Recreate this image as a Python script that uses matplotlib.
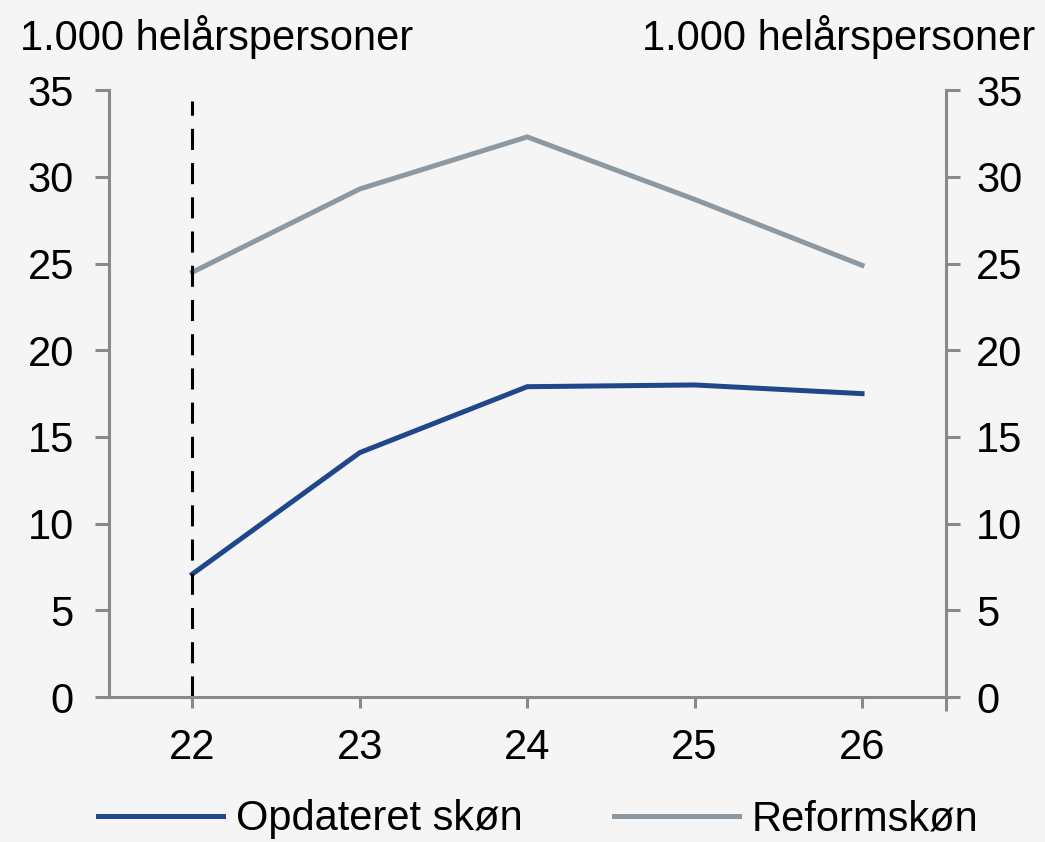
import matplotlib
matplotlib.use("Agg")
from matplotlib import pyplot as plt

# data
years = [22, 23, 24, 25, 26]
opdateret = [7.1, 14.1, 17.9, 18.0, 17.5]
reform = [24.5, 29.3, 32.3, 28.7, 24.9]
y_ticks = [0, 5, 10, 15, 20, 25, 30, 35]
unit_label = "1.000 helårspersoner"

plt.rcParams['font.family'] = ['Liberation Sans', 'DejaVu Sans']
bg = '#f5f5f5'
spine_c = '#898989'

fig = plt.figure(figsize=(10.45, 8.42), dpi=100, facecolor=bg)
ax = fig.add_axes([0.104, 0.172, 0.801, 0.721], facecolor=bg)

ax.plot(years, opdateret, color='#1f478a', lw=3.6, label='Opdateret skøn', solid_joinstyle='miter')
ax.plot(years, reform, color='#8c99a2', lw=3.6, label='Reformskøn', solid_joinstyle='miter')
ax.plot([22, 22], [0, 34.4], color='black', lw=2.2, ls=(0, (6.9, 4.3)))

ax.set_xlim(21.5, 26.5)
ax.set_ylim(0, 35)
ax.set_xticks(years)
ax.set_xticks([26.5], minor=True)
ax.set_yticks(y_ticks)

ax2 = ax.twinx()
ax2.set_ylim(0, 35)
ax2.set_yticks(y_ticks)

for a in (ax, ax2):
    for s in a.spines.values():
        s.set_color(spine_c)
        s.set_linewidth(2.2)
    a.spines['top'].set_visible(False)
    a.tick_params(which='both', direction='out', length=10, width=2.2, color=spine_c,
                  labelsize=30, labelcolor='black', pad=12)
ax.spines['right'].set_visible(False)
ax2.spines['left'].set_visible(False)
ax2.spines['bottom'].set_visible(False)
ax.tick_params(axis='y', pad=15)
ax.tick_params(axis='x', length=8, pad=14)

fig.text(0.019, 0.941, unit_label, fontsize=30, ha='left', va='baseline')
fig.text(0.991, 0.941, unit_label, fontsize=30, ha='right', va='baseline')

fig.legend(loc='center', bbox_to_anchor=(0.515, 0.027), ncol=2, frameon=False,
           fontsize=30, handlelength=3.0, handletextpad=0.3, columnspacing=2.2,
           borderpad=0, borderaxespad=0)

fig.savefig('out.png', dpi=100, facecolor=bg)
